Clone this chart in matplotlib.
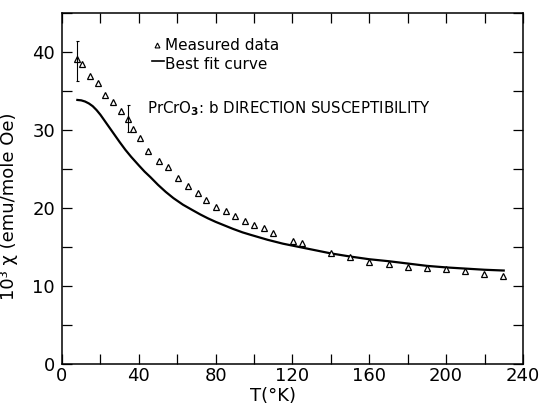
import numpy as np
import matplotlib
matplotlib.use("Agg")
import matplotlib.pyplot as plt
from matplotlib.ticker import MultipleLocator

# measured susceptibility (10^3 chi, emu/mole Oe) vs T (K)
temp_meas = [8, 10.5, 14.7, 18.7, 22.6, 26.6, 30.5, 34.5, 36.8, 40.6, 44.9,
             50.4, 55.1, 60.3, 65.4, 70.6, 75.2, 80.4, 85.3, 90.1, 95.2,
             100.2, 105, 110.1, 120.3, 124.8, 140, 150.1, 160.1, 170.2,
             179.9, 189.8, 199.8, 209.9, 219.7, 229.6]
chi_meas = [39.2, 38.5, 37.0, 36.1, 34.5, 33.7, 32.5, 31.4, 30.2, 29.0, 27.3,
            26.0, 25.3, 23.9, 22.8, 21.9, 21.0, 20.2, 19.6, 19.0, 18.4,
            17.8, 17.4, 16.8, 15.8, 15.5, 14.3, 13.8, 13.1, 12.8,
            12.5, 12.3, 12.2, 11.9, 11.6, 11.3]

# error bars on two of the points
err_T = [8, 34.5]
err_lo = [36.3, 29.8]
err_hi = [41.5, 33.2]

# best fit curve
temp_fit = [8, 10, 12, 14, 16, 18, 20, 22, 24, 26, 28, 30, 33, 36, 40, 43,
            46, 50, 54, 58, 63, 68, 72, 76, 80, 85, 89, 94, 98, 107, 115,
            124, 132, 140, 150, 160, 170, 180, 190, 200, 210, 220, 230]
chi_fit = [33.9, 33.85, 33.7, 33.45, 33.1, 32.6, 32.0, 31.3, 30.6, 29.9,
           29.2, 28.5, 27.5, 26.6, 25.5, 24.7, 24.0, 23.0, 22.1, 21.3, 20.45,
           19.75, 19.2, 18.7, 18.25, 17.75, 17.35, 16.9, 16.6, 15.95, 15.45,
           15.0, 14.6, 14.2, 13.8, 13.45, 13.2, 12.9, 12.6, 12.4, 12.25,
           12.1, 12.0]

plt.rcParams['font.family'] = ['DejaVu Sans']

fig = plt.figure(figsize=(5.41, 4.04), dpi=100)
ax = fig.add_axes([0.1146, 0.099, 0.852, 0.8676])

ax.plot(temp_fit, chi_fit, color='k', linewidth=1.6, solid_joinstyle='round')
ax.plot(temp_meas, chi_meas, linestyle='none', marker='^', markersize=4.5,
        markerfacecolor='white', markeredgecolor='k', markeredgewidth=0.9)
ax.vlines(err_T, err_lo, err_hi, color='k', linewidth=0.8)
ax.hlines(err_lo + err_hi, [t - 0.8 for t in err_T] * 2,
          [t + 0.8 for t in err_T] * 2, color='k', linewidth=0.8)

ax.set_xlim(0, 240)
ax.set_ylim(0, 45)
ax.xaxis.set_major_locator(MultipleLocator(40))
ax.xaxis.set_minor_locator(MultipleLocator(20))
ax.yaxis.set_major_locator(MultipleLocator(10))
ax.yaxis.set_minor_locator(MultipleLocator(5))
ax.tick_params(which='both', direction='in', top=True, right=True,
               length=7, width=0.9, labelsize=13)
ax.tick_params(axis='x', pad=2)
ax.tick_params(axis='y', pad=5)
for s in ax.spines.values():
    s.set_linewidth(1.1)

ax.set_xlabel("T(°K)", fontsize=13)
ax.xaxis.set_label_coords(0.457, -0.065)
ax.set_ylabel("10³ χ (emu/mole Oe)", fontsize=13)
ax.yaxis.set_label_coords(-0.095, 0.45)

# key
ax.plot([49.4], [40.9], linestyle='none', marker='^', markersize=3.5,
        markerfacecolor='white', markeredgecolor='k', markeredgewidth=0.8)
ax.text(53.6, 40.9, "Measured data", fontsize=11, va='center')
ax.plot([46.8, 53], [38.9, 38.9], color='k', linewidth=1.2)
ax.text(53.6, 38.4, "Best fit curve", fontsize=11, va='center')
ax.text(44, 32.8, "PrCrO$_\\mathbf{3}$: b DIRECTION SUSCEPTIBILITY",
        fontsize=10.8, va='center')

fig.savefig("out.png", dpi=100)
